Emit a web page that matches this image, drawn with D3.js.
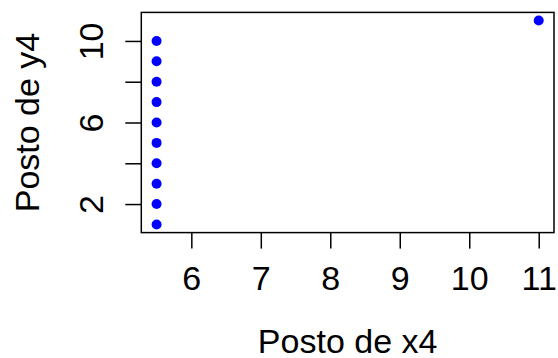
<!DOCTYPE html>
<html>
<head>
<meta charset="utf-8">
<script src="https://cdn.jsdelivr.net/npm/d3@7"></script>
<style>
  html, body { margin: 0; padding: 0; background: #fff; }
  svg text { font-family: "Liberation Sans", Arial, Helvetica, sans-serif; fill: #000; }
</style>
</head>
<body>
<svg id="chart" width="558" height="358"></svg>
<script>
// Ranks of x4 and y4 (ties averaged)
const rankX = [5.5, 5.5, 5.5, 5.5, 5.5, 5.5, 5.5, 5.5, 5.5, 5.5, 11];
const rankY = [1, 2, 3, 4, 5, 6, 7, 8, 9, 10, 11];
const xTicks = [6, 7, 8, 9, 10, 11];
const yTicks = [2, 4, 6, 8, 10];
const yTickLabels = [2, 6, 10];

const W = 558, H = 358;
const plot = { left: 141.3, right: 554, top: 12.4, bottom: 232.6 };
const lineH = 32;      // height of one margin line
const fontSize = 34;

const svg = d3.select("#chart");

// 4% padding on each side of the data range
const xr = d3.extent(rankX), yr = d3.extent(rankY);
const xp = (xr[1] - xr[0]) * 0.04, yp = (yr[1] - yr[0]) * 0.04;
const x = d3.scaleLinear().domain([xr[0] - xp, xr[1] + xp]).range([plot.left, plot.right]);
const y = d3.scaleLinear().domain([yr[0] - yp, yr[1] + yp]).range([plot.bottom, plot.top]);

// x axis: labels on margin line 1
const xAxis = d3.axisBottom(x).tickValues(xTicks).tickSize(lineH / 2).tickFormat(d3.format("d"));
const gx = svg.append("g").attr("transform", `translate(0,${plot.bottom})`).call(xAxis);
gx.select(".domain").remove();
gx.selectAll("line").attr("stroke", "#000").attr("stroke-width", 1.5);
gx.selectAll("text").attr("font-size", fontSize).attr("dy", null).attr("y", 1.8 * lineH);

// y axis: ticks everywhere, labels on 2, 6, 10 only
const yAxis = d3.axisLeft(y).tickValues(yTicks).tickSize(lineH / 2)
  .tickFormat(d => yTickLabels.includes(d) ? String(d) : "");
const gy = svg.append("g").attr("transform", `translate(${plot.left},0)`).call(yAxis);
gy.select(".domain").remove();
gy.selectAll("line").attr("stroke", "#000").attr("stroke-width", 1.5);
gy.selectAll("text")
  .attr("font-size", fontSize)
  .attr("text-anchor", "middle")
  .attr("dy", null)
  .attr("x", null)
  .attr("transform", `translate(${-1.2 * lineH},0) rotate(-90)`);

// plot box
svg.append("rect")
  .attr("x", plot.left).attr("y", plot.top)
  .attr("width", plot.right - plot.left).attr("height", plot.bottom - plot.top)
  .attr("fill", "none").attr("stroke", "#000").attr("stroke-width", 1.5);

// points
svg.append("g").selectAll("circle")
  .data(rankX.map((v, i) => [v, rankY[i]]))
  .join("circle")
  .attr("cx", d => x(d[0])).attr("cy", d => y(d[1]))
  .attr("r", 5).attr("fill", "#0000ff");

// axis titles on margin line 3
svg.append("text")
  .attr("x", (plot.left + plot.right) / 2).attr("y", plot.bottom + 3.77 * lineH)
  .attr("text-anchor", "middle").attr("font-size", fontSize)
  .text("Posto de x4");

svg.append("text")
  .attr("transform", `translate(${plot.left - 3.2 * lineH},${(plot.top + plot.bottom) / 2}) rotate(-90)`)
  .attr("text-anchor", "middle").attr("font-size", fontSize)
  .text("Posto de y4");
</script>
</body>
</html>
